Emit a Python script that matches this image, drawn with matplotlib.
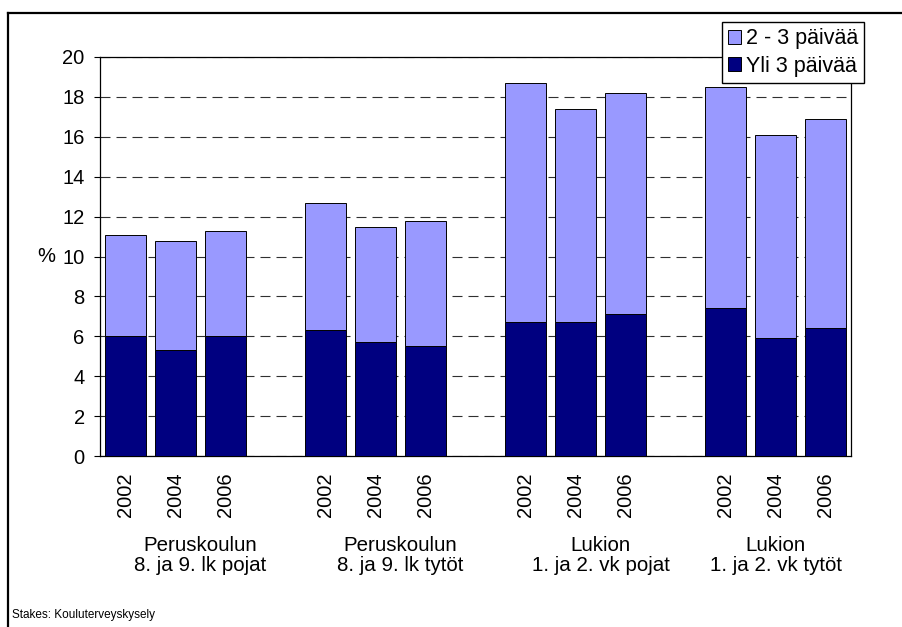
import numpy as np
import matplotlib
matplotlib.use("Agg")
import matplotlib.pyplot as plt
from matplotlib.lines import Line2D
from matplotlib.transforms import blended_transform_factory

plt.rcParams['font.family'] = ['Liberation Sans', 'DejaVu Sans']

years = ['2002', '2004', '2006']
groups = ['Peruskoulun\n8. ja 9. lk pojat', 'Peruskoulun\n8. ja 9. lk tytöt',
          'Lukion\n1. ja 2. vk pojat', 'Lukion\n1. ja 2. vk tytöt']
# yli 3 paivaa (dark) and total height of the stack
yli3 = [6.0, 5.3, 6.0, 6.3, 5.7, 5.5, 6.7, 6.7, 7.1, 7.4, 5.9, 6.4]
total = [11.1, 10.8, 11.3, 12.7, 11.5, 11.8, 18.7, 17.4, 18.2, 18.5, 16.1, 16.9]
paiva23 = [t - d for t, d in zip(total, yli3)]
series_names = ['2 - 3 päivää', 'Yli 3 päivää']
source = 'Stakes: Kouluterveyskysely'

light = '#9999FF'
dark = '#000080'

# slot positions: three bars per group, one empty slot between groups
pos = np.array([g * 4 + i for g in range(4) for i in range(3)])
group_x = [1.5, 5.5, 9.5, 13.0]

fig = plt.figure(figsize=(9.03, 6.27), dpi=100)
ax = fig.add_axes([100 / 903, 171 / 627, 751 / 903, 399 / 627])

b1 = ax.bar(pos, yli3, width=0.82, color=dark, edgecolor='black', linewidth=0.7, zorder=3)
b2 = ax.bar(pos, paiva23, width=0.82, bottom=yli3, color=light, edgecolor='black',
            linewidth=0.7, zorder=3)

ax.set_xlim(-0.5, 14.5)
ax.set_ylim(0, 20)
ax.set_yticks(range(0, 21, 2))
ax.yaxis.grid(True, color='#303030', linestyle=(0, (9, 5.4)), linewidth=0.8, zorder=0)
ax.set_axisbelow(True)
for s in ax.spines.values():
    s.set_color('black')
    s.set_linewidth(0.9)

ax.set_xticks(pos)
ax.set_xticklabels(years * 4, rotation=90, fontsize=14.5)
ax.tick_params(axis='x', length=0, pad=12)
ax.tick_params(axis='y', direction='out', length=4, width=0.8, pad=7, labelsize=14.5)

tr = blended_transform_factory(ax.transAxes, ax.transData)
ax.text(-0.072, 10, '%', transform=tr, ha='center', va='center', fontsize=14.5)

for gx, lab in zip(group_x, groups):
    ax.text(gx, -4.0, lab, ha='center', va='top', fontsize=14.8, linespacing=1.1)

fig.legend([b2, b1], series_names, loc='upper left',
           bbox_to_anchor=(722 / 903, 1 - 22 / 627), borderaxespad=0,
           fontsize=15.5, frameon=True, fancybox=False, framealpha=1,
           edgecolor='black', handlelength=0.6, handleheight=0.6,
           handletextpad=0.2, borderpad=0.3, labelspacing=0.3)

fig.text(12 / 903, 9 / 627, source, fontsize=8.5, ha='left', va='baseline')

# outer frame (left and top only)
fig.add_artist(Line2D([8 / 903, 1.0], [1 - 13 / 627, 1 - 13 / 627], color='black',
                      linewidth=1.6, transform=fig.transFigure))
fig.add_artist(Line2D([8 / 903, 8 / 903], [0, 1 - 13 / 627], color='black',
                      linewidth=1.6, transform=fig.transFigure))

fig.savefig('out.png', dpi=100)
